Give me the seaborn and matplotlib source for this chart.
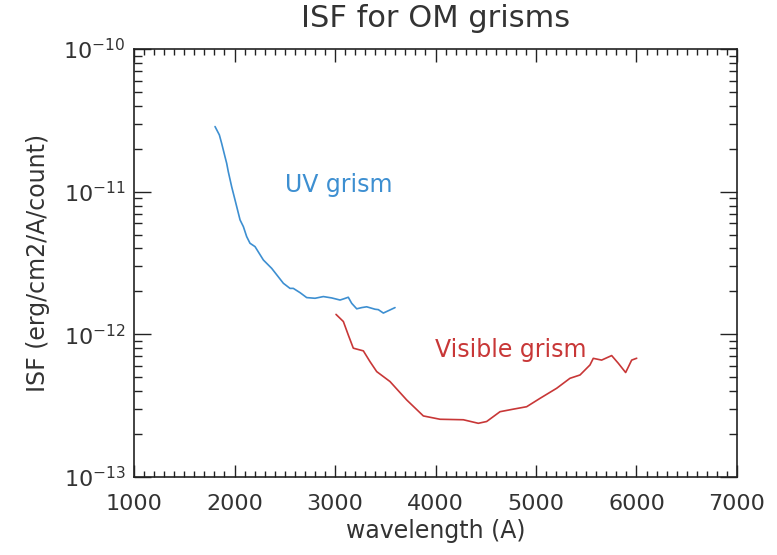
import numpy as np
import pandas as pd
import matplotlib
matplotlib.use("Agg")
import matplotlib.pyplot as plt
import seaborn as sns
from matplotlib.ticker import MultipleLocator, LogLocator

# UV grism
uv_wave = [1806, 1849, 1872, 1905, 1922, 1938, 1972, 2005, 2055, 2088, 2121,
           2154, 2204, 2287, 2370, 2486, 2552, 2585, 2652, 2718, 2801, 2884,
           2967, 3050, 3083, 3132, 3166, 3216, 3266, 3315, 3398, 3431, 3481, 3597]
uv_isf = [2.86e-11, 2.50e-11, 2.18e-11, 1.76e-11, 1.58e-11, 1.38e-11, 1.08e-11,
          8.75e-12, 6.34e-12, 5.69e-12, 4.84e-12, 4.35e-12, 4.12e-12, 3.32e-12,
          2.90e-12, 2.28e-12, 2.10e-12, 2.10e-12, 1.96e-12, 1.81e-12, 1.79e-12,
          1.84e-12, 1.80e-12, 1.74e-12, 1.77e-12, 1.82e-12, 1.65e-12, 1.51e-12,
          1.54e-12, 1.56e-12, 1.50e-12, 1.49e-12, 1.41e-12, 1.54e-12]

# Visible grism
vis_wave = [3010, 3083, 3132, 3182, 3282, 3348, 3415, 3547, 3713, 3879, 4045,
            4277, 4426, 4509, 4642, 4774, 4907, 5040, 5206, 5338, 5438, 5537,
            5570, 5653, 5753, 5819, 5892, 5952, 6002]
vis_isf = [1.38e-12, 1.23e-12, 9.9e-13, 8.0e-13, 7.66e-13, 6.44e-13, 5.48e-13,
           4.67e-13, 3.47e-13, 2.68e-13, 2.54e-13, 2.52e-13, 2.38e-13, 2.45e-13,
           2.87e-13, 2.99e-13, 3.11e-13, 3.56e-13, 4.19e-13, 4.92e-13, 5.19e-13,
           6.10e-13, 6.79e-13, 6.60e-13, 7.10e-13, 6.27e-13, 5.40e-13, 6.60e-13,
           6.80e-13]

uv_color = "#3d8fd1"
vis_color = "#c83737"
ink = "#333333"

sns.set_style("white")
plt.rcParams["font.family"] = ["DejaVu Sans"]
plt.rcParams["mathtext.default"] = "regular"

fig = plt.figure(figsize=(7.77, 5.55), dpi=100)
ax = fig.add_axes([0.1725, 0.1405, 0.776, 0.7712])

df_uv = pd.DataFrame({"wave": uv_wave, "isf": uv_isf})
df_vis = pd.DataFrame({"wave": vis_wave, "isf": vis_isf})
sns.lineplot(data=df_uv, x="wave", y="isf", color=uv_color, linewidth=1.2, sort=False, ax=ax)
sns.lineplot(data=df_vis, x="wave", y="isf", color=vis_color, linewidth=1.2, sort=False, ax=ax)

ax.set_yscale("log")
ax.set_xlim(1000, 7000)
ax.set_ylim(1e-13, 1e-10)

ax.xaxis.set_major_locator(MultipleLocator(1000))
ax.xaxis.set_minor_locator(MultipleLocator(100))
ax.yaxis.set_major_locator(LogLocator(base=10))
ax.yaxis.set_minor_locator(LogLocator(base=10, subs=np.arange(2, 10)))
ax.tick_params(which="both", direction="in", top=True, right=True,
               bottom=True, left=True, color="#222222")
ax.tick_params(axis="x", which="major", length=9, width=1, labelsize=16, pad=12, labelcolor=ink)
ax.tick_params(axis="x", which="minor", length=4, width=1)
ax.tick_params(axis="y", which="major", length=12, width=1, labelsize=16, pad=6, labelcolor=ink)
ax.tick_params(axis="y", which="minor", length=6, width=1)
for s in ax.spines.values():
    s.set_color("#222222")
    s.set_linewidth(1.2)

ax.text(2502, 1.11e-11, "UV grism", color=uv_color, fontsize=17, va="center")
ax.text(3995, 7.8e-13, "Visible grism", color=vis_color, fontsize=17, va="center")

ax.set_xlabel("wavelength (A)", fontsize=17, color=ink, labelpad=4)
ax.set_ylabel("ISF (erg/cm2/A/count)", fontsize=17, color=ink, labelpad=10)
ax.set_title("ISF for OM grisms", fontsize=22, color=ink, pad=16)

fig.savefig("out.png", dpi=100)
